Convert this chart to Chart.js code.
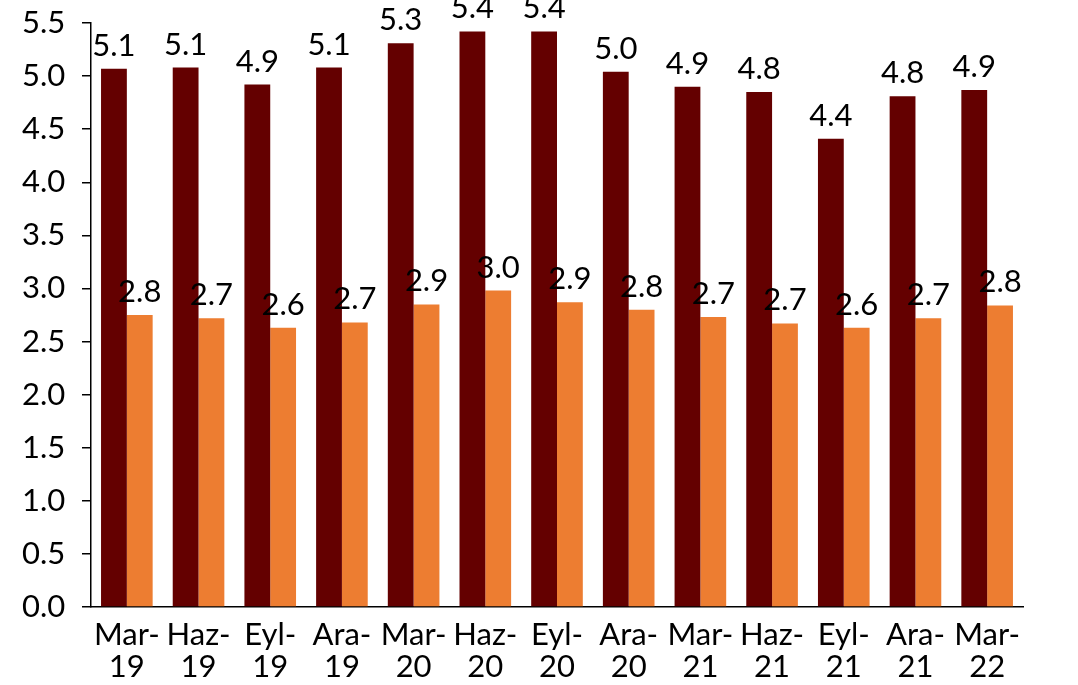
<!DOCTYPE html>
<html>
<head>
<meta charset="utf-8">
<script src="https://cdn.jsdelivr.net/npm/chart.js@4.4.1/dist/chart.umd.min.js"></script>
<style>
  html, body { margin: 0; padding: 0; background: #ffffff; }
  #wrap { width: 1078px; height: 685px; position: relative; }
</style>
</head>
<body>
<div id="wrap"><canvas id="c"></canvas></div>
<script>
const categories = [
  ['Mar-', '19'], ['Haz-', '19'], ['Eyl-', '19'], ['Ara-', '19'],
  ['Mar-', '20'], ['Haz-', '20'], ['Eyl-', '20'], ['Ara-', '20'],
  ['Mar-', '21'], ['Haz-', '21'], ['Eyl-', '21'], ['Ara-', '21'],
  ['Mar-', '22']
];
const seriesDark = [5.07, 5.08, 4.92, 5.08, 5.31, 5.42, 5.42, 5.04, 4.90, 4.85, 4.41, 4.81, 4.87];
const seriesOrange = [2.75, 2.72, 2.63, 2.68, 2.85, 2.98, 2.87, 2.80, 2.73, 2.67, 2.63, 2.72, 2.84];
const yMin = 0, yMax = 5.5, yStep = 0.5;

const FONT = 'Lato, "Open Sans", "Noto Sans", sans-serif';
const FS = 31;

const labelPlugin = {
  id: 'barLabels',
  afterDatasetsDraw(chart) {
    const ctx = chart.ctx;
    ctx.save();
    ctx.font = FS + 'px ' + FONT;
    ctx.fillStyle = '#000000';
    ctx.textAlign = 'center';
    ctx.textBaseline = 'alphabetic';
    chart.data.datasets.forEach((ds, i) => {
      const meta = chart.getDatasetMeta(i);
      meta.data.forEach((el, j) => {
        ctx.fillText(ds.data[j].toFixed(1), el.x, el.y - 13);
      });
    });
    ctx.restore();
  }
};

new Chart(document.getElementById('c'), {
  type: 'bar',
  data: {
    labels: categories,
    datasets: [
      { label: 'A', data: seriesDark, backgroundColor: '#640000', categoryPercentage: 0.72, barPercentage: 1.0 },
      { label: 'B', data: seriesOrange, backgroundColor: '#ED7D31', categoryPercentage: 0.72, barPercentage: 1.0 }
    ]
  },
  options: {
    responsive: true,
    maintainAspectRatio: false,
    animation: false,
    layout: { padding: { top: 23, right: 55, bottom: 0, left: 22 } },
    plugins: { legend: { display: false }, tooltip: { enabled: false } },
    scales: {
      x: {
        afterFit(scale) { scale.height = 78; },
        grid: { display: false, drawTicks: false },
        border: { display: true, color: '#000000', width: 1.5 },
        ticks: {
          color: '#000000',
          font: { family: FONT, size: FS, lineHeight: 1.03 },
          padding: 12,
          maxRotation: 0,
          autoSkip: false
        }
      },
      y: {
        min: yMin,
        max: yMax,
        afterFit(scale) { scale.width = 69; },
        grid: { display: true, drawOnChartArea: false, drawTicks: true, tickLength: 9, color: '#000000', lineWidth: 1.5 },
        border: { display: true, color: '#000000', width: 1.5 },
        ticks: {
          stepSize: yStep,
          color: '#000000',
          padding: 0,
          crossAlign: 'far',
          font: { family: FONT, size: FS },
          callback: (v) => Number(v).toFixed(1)
        }
      }
    }
  },
  plugins: [labelPlugin]
});
</script>
</body>
</html>
